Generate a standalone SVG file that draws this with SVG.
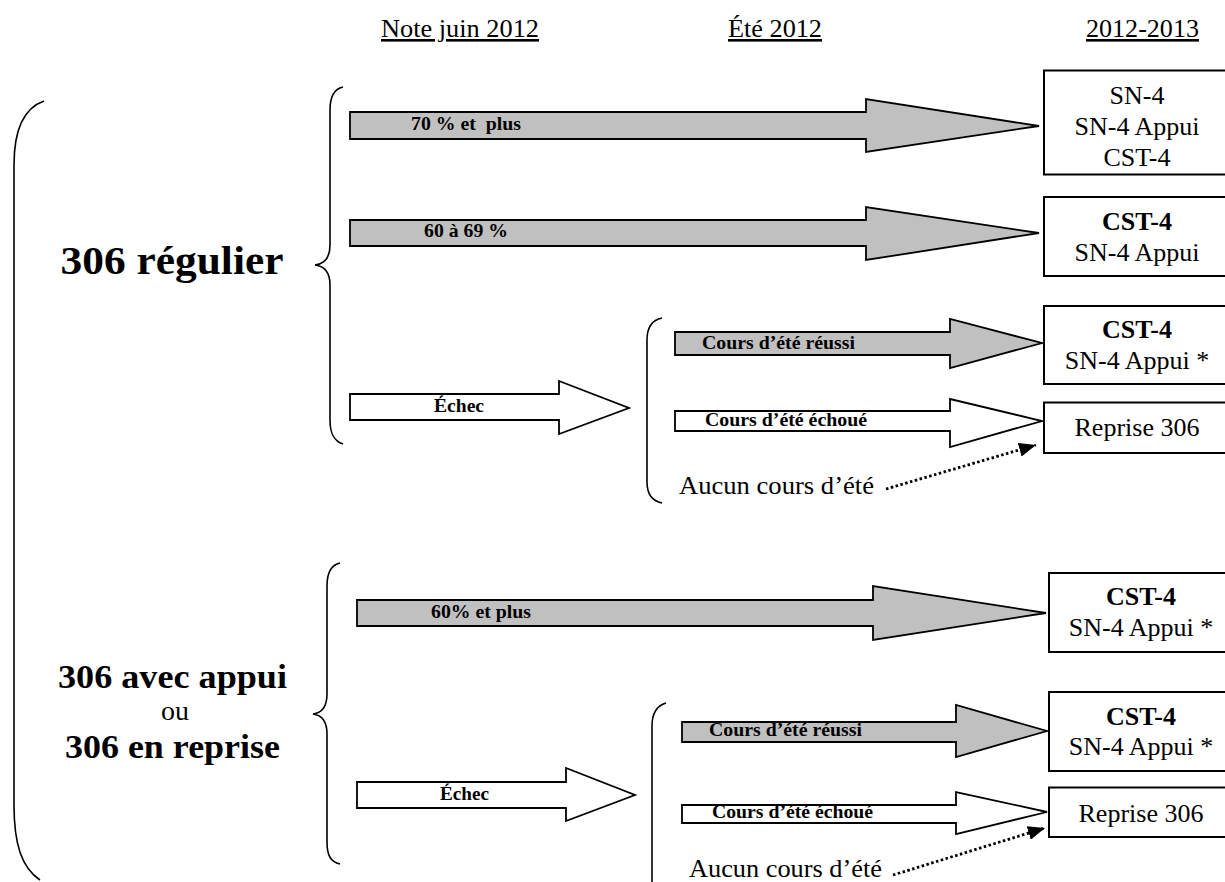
<svg xmlns="http://www.w3.org/2000/svg" width="1225" height="882" viewBox="0 0 1225 882">
<style>
text{font-family:"Liberation Serif","Times New Roman",serif;fill:#000}
.hdr{font-size:26px;text-decoration:underline}
.big{font-size:39px;font-weight:bold;text-anchor:middle}
.lbl{font-size:18px;font-weight:bold;white-space:pre}
.box{fill:#fff;stroke:#000;stroke-width:2}
.bt{font-size:26px;text-anchor:middle}
.bb{font-weight:bold}
.plain{font-size:26px}
.ag{fill:#c0c0c0;stroke:#000;stroke-width:1.8;stroke-linejoin:miter}
.aw{fill:#fff;stroke:#000;stroke-width:1.8;stroke-linejoin:miter}
.br{fill:none;stroke:#000;stroke-width:1.6}
.dot{fill:none;stroke:#000;stroke-width:2.8;stroke-dasharray:2.5 2.5}
</style>
<defs>
<marker id="tri" markerUnits="userSpaceOnUse" markerWidth="18" markerHeight="14" refX="17" refY="7" orient="auto">
<path d="M0,0 L17,7 L0,14 z" fill="#000"/>
</marker>
</defs>

<g id="headers">
<text class="hdr" x="381" y="37" textLength="158" lengthAdjust="spacingAndGlyphs">Note juin 2012</text>
<text class="hdr" x="728" y="37" textLength="94" lengthAdjust="spacingAndGlyphs">Été 2012</text>
<text class="hdr" x="1086" y="37" textLength="113" lengthAdjust="spacingAndGlyphs">2012-2013</text>
</g>

<g id="brackets">
<path class="br" d="M44,101 C24,108 14,130 14,165 L14,805 C14,845 22,868 40,880"/>
<path class="br" d="M343,87 C334,89 330,96 330,110 L330,245 C330,258 324,264 315,265 C324,266 330,272 330,285 L330,420 C330,434 334,441 343,444"/>
<path class="br" d="M340,563 C331,565 327,572 327,586 L327,694 C327,707 321,713 313,714 C321,715 327,721 327,734 L327,842 C327,856 331,862 340,864"/>
<path class="br" d="M662,318 C652,320 647,328 647,340 L647,482 C647,494 652,501 662,503"/>
<path class="br" d="M666,703 C656,706 652,714 652,726 L652,890"/>
</g>

<g id="node-306-regulier">
<text class="big" x="172" y="274" textLength="223" lengthAdjust="spacingAndGlyphs">306 régulier</text>
</g>

<g id="node-306-appui">
<text class="big" x="172.5" y="688" style="font-size:34px" textLength="229" lengthAdjust="spacingAndGlyphs">306 avec appui</text>
<text x="175" y="720" style="font-size:28px;text-anchor:middle">ou</text>
<text class="big" x="172.5" y="758" style="font-size:34px" textLength="215" lengthAdjust="spacingAndGlyphs">306 en reprise</text>
</g>

<g id="connectors">
<polygon class="ag" points="350,112 866,112 866,99 1039,126 866,152 866,139 350,139"/>
<polygon class="ag" points="350,220 866,220 866,207 1039,233 866,260 866,246 350,246"/>
<polygon class="aw" points="350,394 559,394 559,381 629,408 559,434 559,420 350,420"/>
<polygon class="ag" points="675,332 950,332 950,319 1042,343 950,368 950,355 675,355"/>
<polygon class="aw" points="675,411 950,411 950,399 1042,421 950,447 950,431 675,431"/>
<polygon class="ag" points="357,600 873,600 873,586 1046,613 873,640 873,626 357,626"/>
<polygon class="aw" points="357,782 566,782 566,768 635,795 566,821 566,808 357,808"/>
<polygon class="ag" points="682,722 956,722 956,705 1047,731 956,757 956,742 682,742"/>
<polygon class="aw" points="682,805 956,805 956,792 1047,812 956,834 956,823 682,823"/>
<line class="dot" x1="886" y1="489" x2="1036" y2="445" marker-end="url(#tri)"/>
<line class="dot" x1="893" y1="875" x2="1045" y2="828" marker-end="url(#tri)"/>
</g>

<g id="labels">
<text class="lbl" x="411" y="129.5" textLength="110" lengthAdjust="spacingAndGlyphs">70 % et  plus</text>
<text class="lbl" x="424" y="237" textLength="84" lengthAdjust="spacingAndGlyphs">60 à 69 %</text>
<text class="lbl" x="434" y="412" textLength="50" lengthAdjust="spacingAndGlyphs">Échec</text>
<text class="lbl" x="702" y="348.5" textLength="153" lengthAdjust="spacingAndGlyphs">Cours d’été réussi</text>
<text class="lbl" x="705" y="426" textLength="162" lengthAdjust="spacingAndGlyphs">Cours d’été échoué</text>
<text class="plain" x="679" y="494" textLength="195" lengthAdjust="spacingAndGlyphs">Aucun cours d’été</text>
<text class="lbl" x="431" y="618" textLength="100" lengthAdjust="spacingAndGlyphs">60% et plus</text>
<text class="lbl" x="440" y="800" textLength="49" lengthAdjust="spacingAndGlyphs">Échec</text>
<text class="lbl" x="709" y="736" textLength="153" lengthAdjust="spacingAndGlyphs">Cours d’été réussi</text>
<text class="lbl" x="712" y="818" textLength="161" lengthAdjust="spacingAndGlyphs">Cours d’été échoué</text>
<text class="plain" x="689" y="877" textLength="193" lengthAdjust="spacingAndGlyphs">Aucun cours d’été</text>
</g>

<g id="box-70">
<rect class="box" x="1044" y="70.5" width="190" height="104"/>
<text class="bt" x="1137" y="104">SN-4</text>
<text class="bt" x="1137" y="135">SN-4 Appui</text>
<text class="bt" x="1137" y="166">CST-4</text>
</g>
<g id="box-60">
<rect class="box" x="1044" y="197" width="190" height="79"/>
<text class="bt bb" x="1137" y="230">CST-4</text>
<text class="bt" x="1137" y="261">SN-4 Appui</text>
</g>
<g id="box-reussi-1">
<rect class="box" x="1044" y="306" width="190" height="78"/>
<text class="bt bb" x="1137" y="338">CST-4</text>
<text class="bt" x="1137" y="369">SN-4 Appui *</text>
</g>
<g id="box-reprise-1">
<rect class="box" x="1044" y="402.5" width="190" height="50.5"/>
<text class="bt" x="1137" y="436">Reprise 306</text>
</g>
<g id="box-60plus">
<rect class="box" x="1049" y="573" width="190" height="79"/>
<text class="bt bb" x="1141" y="605">CST-4</text>
<text class="bt" x="1141" y="636">SN-4 Appui *</text>
</g>
<g id="box-reussi-2">
<rect class="box" x="1049" y="692" width="190" height="79"/>
<text class="bt bb" x="1141" y="725">CST-4</text>
<text class="bt" x="1141" y="755">SN-4 Appui *</text>
</g>
<g id="box-reprise-2">
<rect class="box" x="1049" y="787.5" width="190" height="49.5"/>
<text class="bt" x="1141" y="822">Reprise 306</text>
</g>
</svg>
